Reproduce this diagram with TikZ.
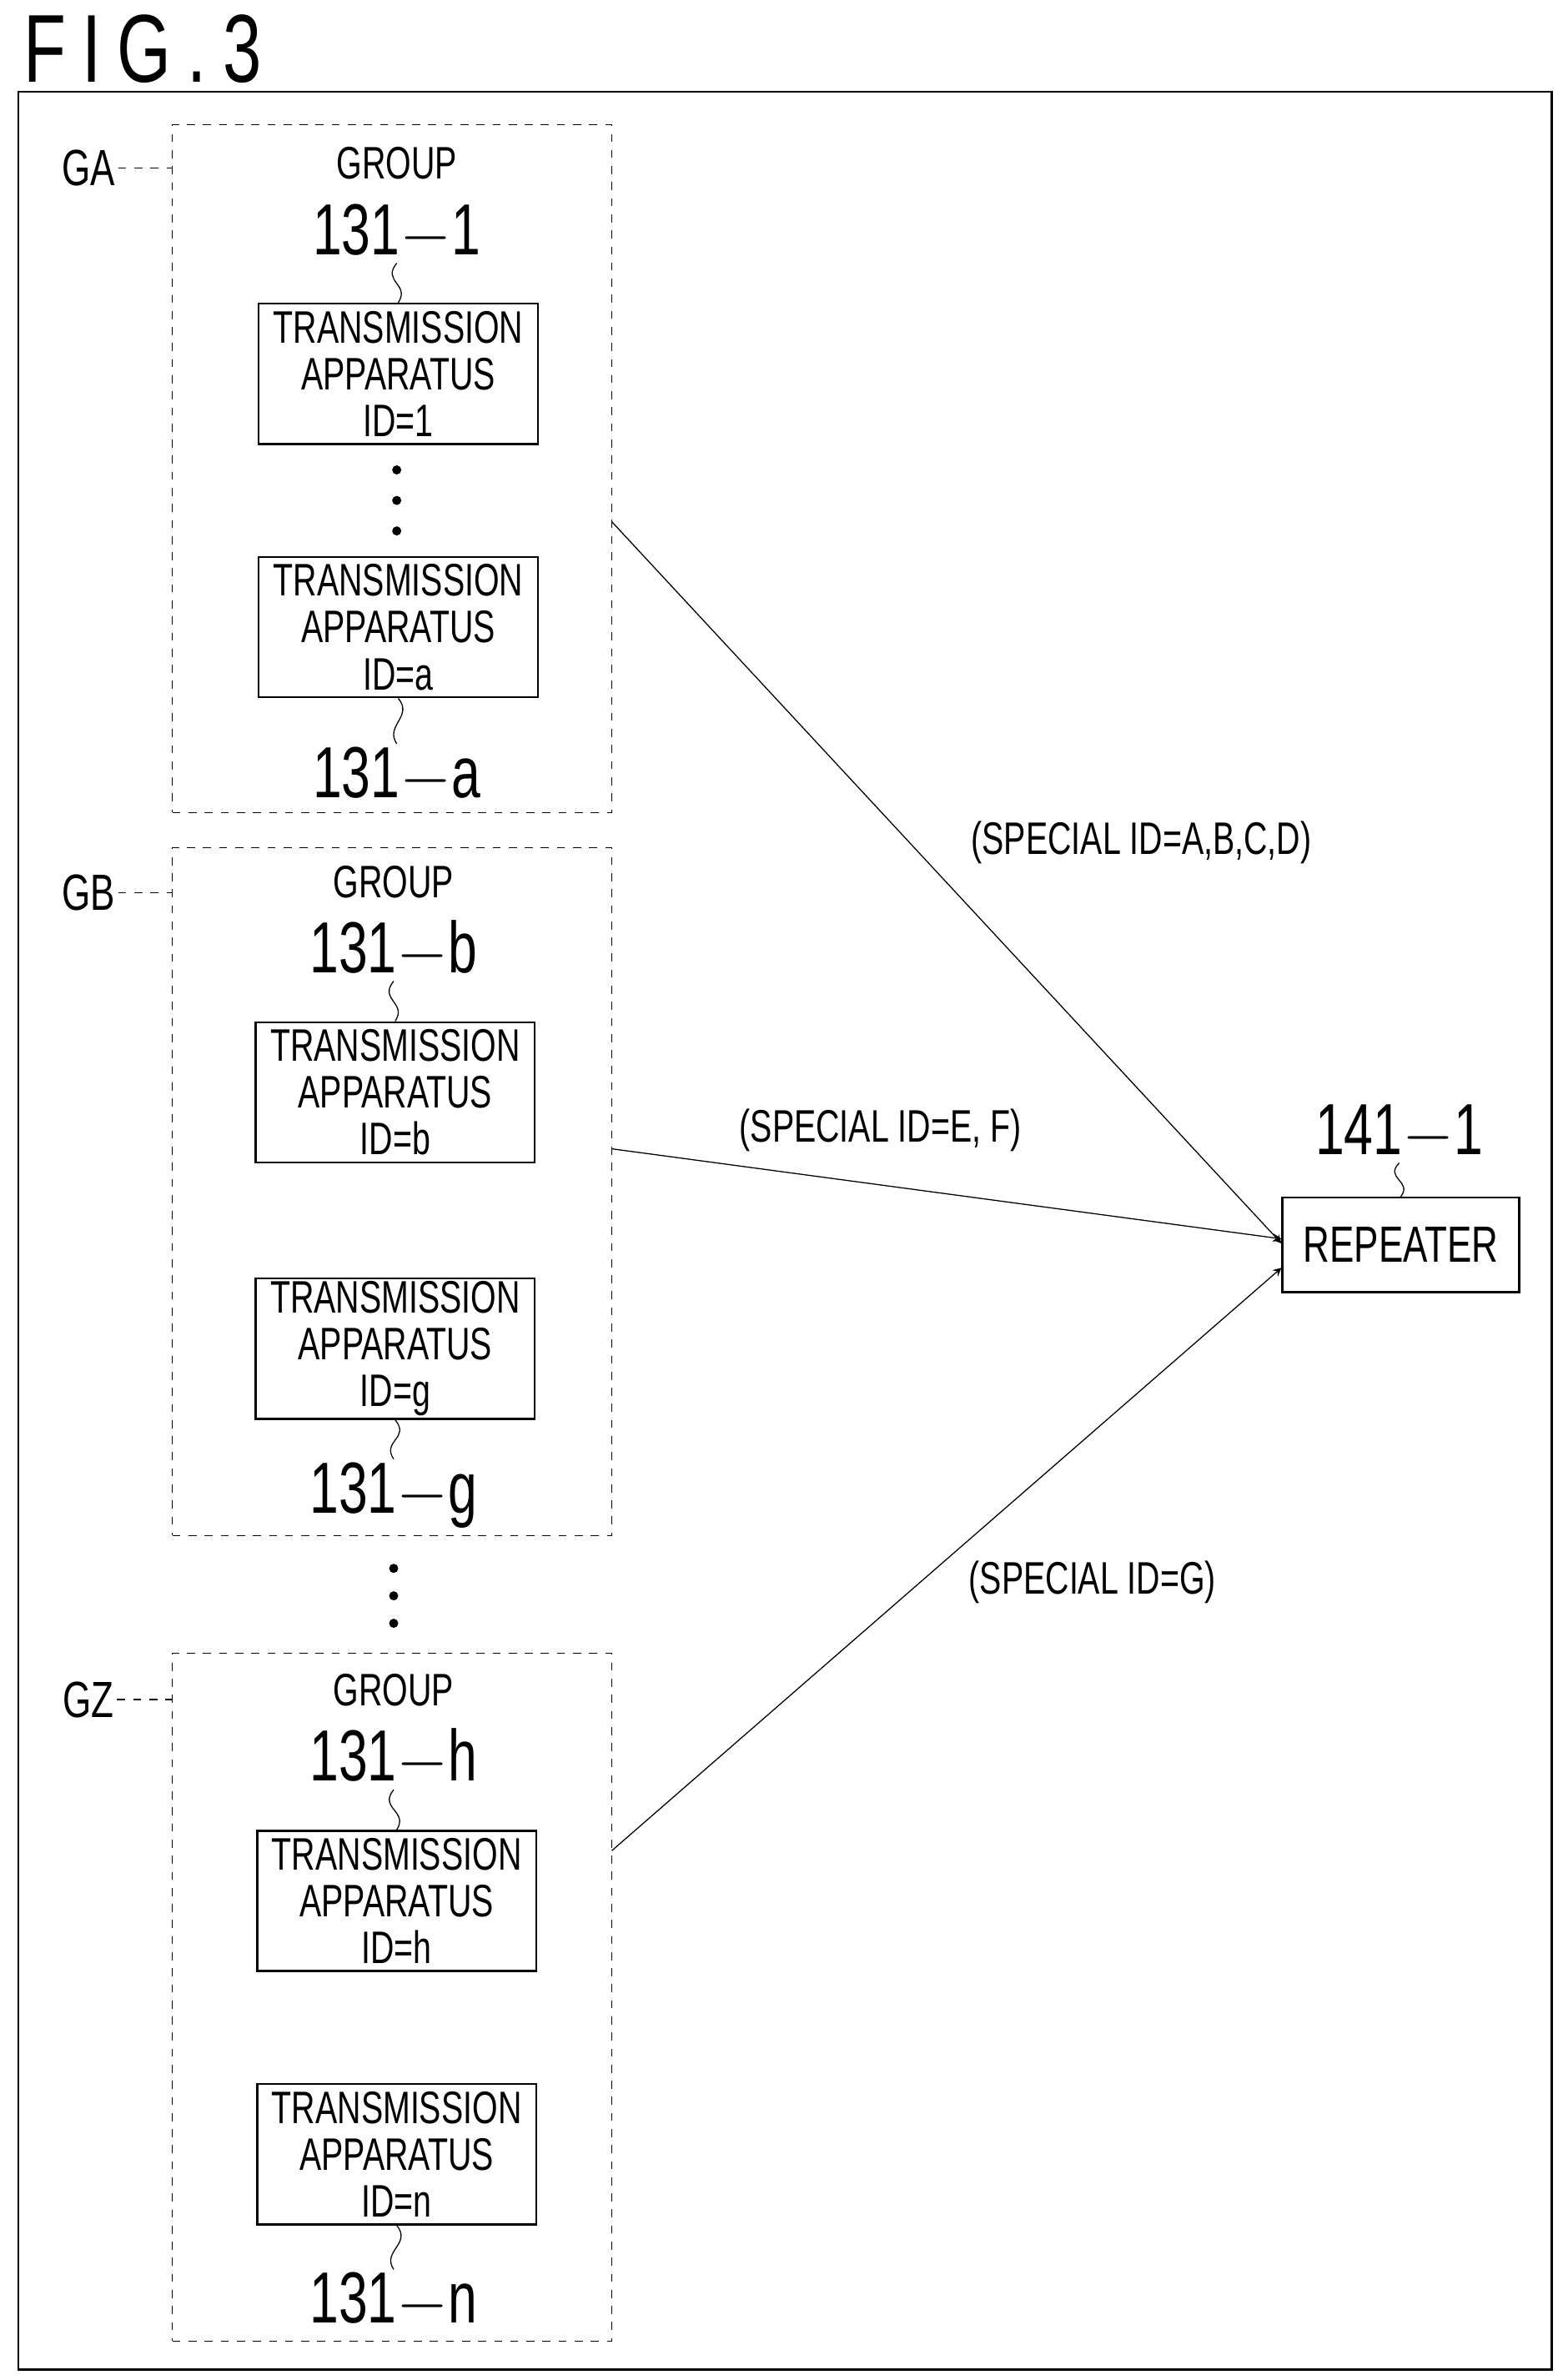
\documentclass[tikz,border=0pt]{standalone}
\usepackage{fontspec}
\setmainfont{Liberation Sans}[FakeStretch=0.72]
\usetikzlibrary{positioning}
\tikzset{
  > = stealth,
  x = 0.02cm, y = -0.02cm,
  apparatus/.style = {rectangle, draw, thick, align = center,
                      minimum width = 3.66cm, minimum height = 1.84cm,
                      inner sep = 0, font = \fontsize{17}{17.5}\selectfont},
  group/.style = {rectangle, draw, dashed, minimum width = 5.76cm,
                  minimum height = 9.02cm},
  refnum/.style = {font = \fontsize{27}{27}\selectfont, inner sep = 1pt},
  grouptxt/.style = {font = \fontsize{17}{17}\selectfont},
  glabel/.style = {font = \fontsize{19}{19}\selectfont, inner sep = 1pt},
  idlabel/.style = {font = \fontsize{17}{17}\selectfont},
  squig/.style = {thin},
  link/.style = {->, thin}
}
\newcommand{\txapp}[1]{TRANSMISSION\\APPARATUS\\ID=#1}

\begin{document}
\begin{tikzpicture}
\useasboundingbox (0,0) rectangle (1024,1560);

\node[anchor = west, font = \fontsize{36}{36}\selectfont, inner sep = 0](fig) at (15,32){F\,I\,G\,.\,3};
\draw[thick] (12,60) rectangle (1017,1553);

% group GA
\node[group](ga) at (257,307){};
\node[grouptxt](ga-group) at (260,107){GROUP};
\node[refnum](num-1) at (260,152){131$-$1};
\node[apparatus](app-1) at (261,245){\txapp{1}};
\node[apparatus](app-a) at (261,411){\txapp{a}};
\node[refnum](num-a) at (260,508){131$-$a};
\foreach \y in {308,328,348} \fill (260,\y) circle (0.06cm);
\node[glabel](ga-lbl) at (58,110){GA};
\draw[dashed] (ga-lbl.east) -- (ga-lbl.east -| ga.west);

% group GB
\node[group](gb) at (257,781){};
\node[grouptxt](gb-group) at (258,578){GROUP};
\node[refnum](num-b) at (258,622){131$-$b};
\node[apparatus](app-b) at (259,716){\txapp{b}};
\node[apparatus](app-g) at (259,884){\txapp{g}};
\node[refnum](num-g) at (258,980){131$-$g};
\node[glabel](gb-lbl) at (58,585){GB};
\draw[dashed] (gb-lbl.east) -- (gb-lbl.east -| gb.west);

\foreach \y in {1028,1046,1064} \fill (258,\y) circle (0.06cm);

% group GZ
\node[group](gz) at (257,1309){};
\node[grouptxt](gz-group) at (258,1108){GROUP};
\node[refnum](num-h) at (258,1152){131$-$h};
\node[apparatus](app-h) at (260,1246){\txapp{h}};
\node[apparatus](app-n) at (260,1412){\txapp{n}};
\node[refnum](num-n) at (258,1508){131$-$n};
\node[glabel](gz-lbl) at (58,1114){GZ};
\draw[dashed] (gz-lbl.east) -- (gz-lbl.east -| gz.west);

% leaders
\draw[squig] (num-1.south) .. controls +(-10,12) and +(8,-12) .. (app-1.north);
\draw[squig] (num-a.north) .. controls +(-8,-12) and +(10,12) .. (app-a.south);
\draw[squig] (num-b.south) .. controls +(-10,12) and +(8,-12) .. (app-b.north);
\draw[squig] (num-g.north) .. controls +(-8,-12) and +(10,12) .. (app-g.south);
\draw[squig] (num-h.south) .. controls +(-10,12) and +(8,-12) .. (app-h.north);
\draw[squig] (num-n.north) .. controls +(-8,-12) and +(10,12) .. (app-n.south);

% repeater
\node[rectangle, draw, thick, minimum width = 3.1cm, minimum height = 1.24cm,
      font = \fontsize{19}{19}\selectfont](rep) at (918,816){REPEATER};
\node[refnum](num-rep) at (917,742){141$-$1};
\draw[squig] (num-rep.south) .. controls +(-10,10) and +(8,-10) .. (rep.north);

% links
\coordinate (ga-out) at (401,342);
\coordinate (gb-out) at (401,753);
\coordinate (gz-out) at (401,1213);
\draw[link] (ga-out) -- ([yshift = 0.02cm]rep.west);
\draw[link] (gb-out) -- ([yshift = 0.08cm]rep.west);
\draw[link] (gz-out) -- ([yshift = -0.3cm]rep.west);
\node[idlabel](id-ga) at (748,552){(SPECIAL ID=A,B,C,D)};
\node[idlabel](id-gb) at (577,741){(SPECIAL ID=E, F)};
\node[idlabel](id-gz) at (716,1037){(SPECIAL ID=G)};

\end{tikzpicture}
\end{document}
